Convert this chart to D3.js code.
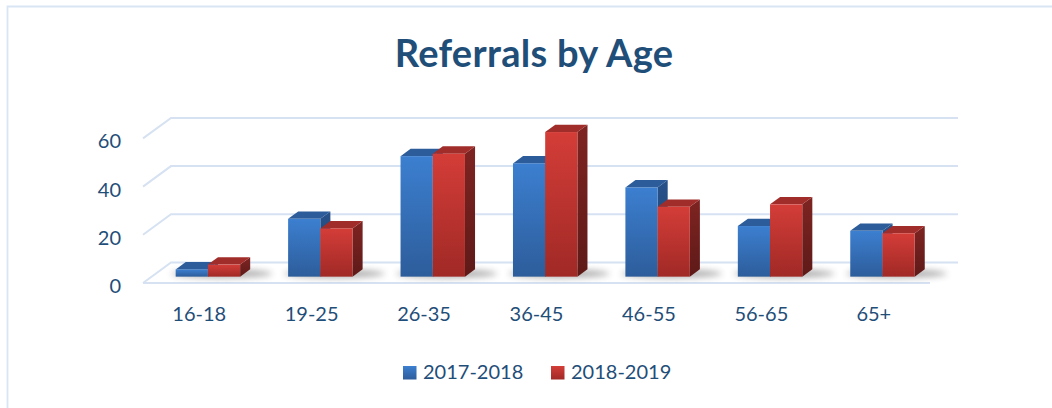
<!DOCTYPE html>
<html>
<head>
<meta charset="utf-8">
<title>Referrals by Age</title>
<script src="https://cdnjs.cloudflare.com/ajax/libs/d3/7.8.5/d3.min.js"></script>
<style>
  body { margin: 0; background: #fff; }
  text { font-family: Lato, "Open Sans", sans-serif; fill: #1F4E79; }
</style>
</head>
<body>
<script>
// data
var categories = ["16-18", "19-25", "26-35", "36-45", "46-55", "56-65", "65+"]
var series = ["2017-2018", "2018-2019"]
var values2017 = [3, 24, 50, 47, 37, 21, 19]
var values2018 = [5, 20, 51, 60, 29, 30, 18]
var yTicks = [0, 20, 40, 60]

var width = 1052, height = 408
var depth = [28, -20.5]        // full floor depth (oblique projection)
var barZ = [0.31, 0.67]         // bars sit in the middle of the depth

var svg = d3.select("body").append("svg")
  .attr("width", width)
  .attr("height", height)

var defs = svg.append("defs")
function grad(id, c1, c2) {
  var g = defs.append("linearGradient").attr("id", id)
    .attr("x1", 0).attr("y1", 0).attr("x2", 0).attr("y2", 1)
  g.append("stop").attr("offset", "0%").attr("stop-color", c1)
  g.append("stop").attr("offset", "100%").attr("stop-color", c2)
}
grad("blueFront", "#3C7FD0", "#2D5D9B")
grad("redFront", "#D43D38", "#A02926")
grad("blueSide", "#27528A", "#1F4270")
grad("redSide", "#7E2422", "#5E1A18")
defs.append("filter").attr("id", "blur").attr("x", "-50%").attr("y", "-50%")
  .attr("width", "200%").attr("height", "200%")
  .append("feGaussianBlur").attr("stdDeviation", 3)

var colors = {
  "2017-2018": { front: "url(#blueFront)", top: "#2C5C99", side: "url(#blueSide)" },
  "2018-2019": { front: "url(#redFront)", top: "#A02D29", side: "url(#redSide)" }
}

// outer frame
svg.append("path")
  .attr("d", "M7.5," + height + " V6.5 H" + width)
  .attr("fill", "none")
  .attr("stroke", "#DAE5F3")
  .attr("stroke-width", 1.8)

// title
svg.append("text")
  .attr("x", 534).attr("y", 67)
  .attr("text-anchor", "middle")
  .style("font-size", "38px").style("font-weight", "bold")
  .style("letter-spacing", "0.3px")
  .text("Referrals by Age")

var x = d3.scaleBand().domain(categories).range([143, 930])
var xs = d3.scaleBand().domain(series)
  .range([x.bandwidth() * 0.2135, x.bandwidth() * 0.7865])
var y = d3.scaleLinear().domain([0, 60]).range([283, 138.4])

// grid: back wall lines + left diagonals
var grid = svg.append("g").attr("stroke", "#D6E2F2").attr("stroke-width", 2).attr("fill", "none")
yTicks.forEach(function(t) {
  grid.append("path")
    .attr("d", "M" + x.range()[0] + "," + y(t) +
      " L" + (x.range()[0] + depth[0]) + "," + (y(t) + depth[1]) +
      " H" + (x.range()[1] + depth[0]))
})
// front edge of the floor
grid.append("line")
  .attr("x1", x.range()[0]).attr("x2", x.range()[1])
  .attr("y1", y(0)).attr("y2", y(0))

// y labels
svg.append("g").selectAll("text").data(yTicks).join("text")
  .attr("x", 121)
  .attr("y", function(d) { return y(d) + 3 })
  .attr("dy", "0.35em")
  .attr("text-anchor", "end")
  .style("font-size", "20px")
  .text(function(d) { return d })

// x labels
svg.append("g").selectAll("text").data(categories).join("text")
  .attr("x", function(d) { return x(d) + x.bandwidth() / 2 })
  .attr("y", 321)
  .attr("text-anchor", "middle")
  .style("font-size", "20px")
  .text(function(d) { return d })

var rows = categories.map(function(c, i) {
  return { cat: c, vals: [{ s: series[0], v: values2017[i] }, { s: series[1], v: values2018[i] }] }
})

var fx = depth[0] * barZ[0], fy = depth[1] * barZ[0]
var bx = depth[0] * barZ[1], by = depth[1] * barZ[1]

// shadows on the floor
svg.append("g").selectAll("ellipse").data(rows).join("ellipse")
  .attr("cx", function(d) { return x(d.cat) + xs(series[0]) + fx + xs.bandwidth() + 14 })
  .attr("cy", y(0) + fy - 3)
  .attr("rx", xs.bandwidth() + 18)
  .attr("ry", 4.5)
  .attr("fill", "#555")
  .attr("opacity", 0.45)
  .attr("filter", "url(#blur)")

var groups = svg.append("g").selectAll("g").data(rows).join("g")
groups.each(function(row) {
  var g = d3.select(this)
  row.vals.forEach(function(b) {
    var x0 = x(row.cat) + xs(b.s), x1 = x0 + xs.bandwidth()
    var yt = y(b.v), yb = y(0)
    var c = colors[b.s]
    // side
    g.append("path")
      .attr("d", "M" + (x1 + fx) + "," + (yt + fy) + " L" + (x1 + bx) + "," + (yt + by) +
        " L" + (x1 + bx) + "," + (yb + by) + " L" + (x1 + fx) + "," + (yb + fy) + "Z")
      .attr("fill", c.side)
    // top
    g.append("path")
      .attr("d", "M" + (x0 + fx) + "," + (yt + fy) + " L" + (x0 + bx) + "," + (yt + by) +
        " L" + (x1 + bx) + "," + (yt + by) + " L" + (x1 + fx) + "," + (yt + fy) + "Z")
      .attr("fill", c.top)
    // front
    g.append("rect")
      .attr("x", x0 + fx).attr("y", yt + fy)
      .attr("width", xs.bandwidth()).attr("height", yb - yt)
      .attr("fill", c.front)
  })
})

// legend
var legend = svg.append("g").selectAll("g").data(series).join("g")
  .attr("transform", function(d, i) { return "translate(" + [403, 551][i] + ",366)" })
legend.append("rect")
  .attr("width", 13.5).attr("height", 13.5)
  .attr("fill", function(d) { return colors[d].front })
legend.append("text")
  .attr("x", 20).attr("y", 13)
  .style("font-size", "20px")
  .text(function(d) { return d })
</script>
</body>
</html>
